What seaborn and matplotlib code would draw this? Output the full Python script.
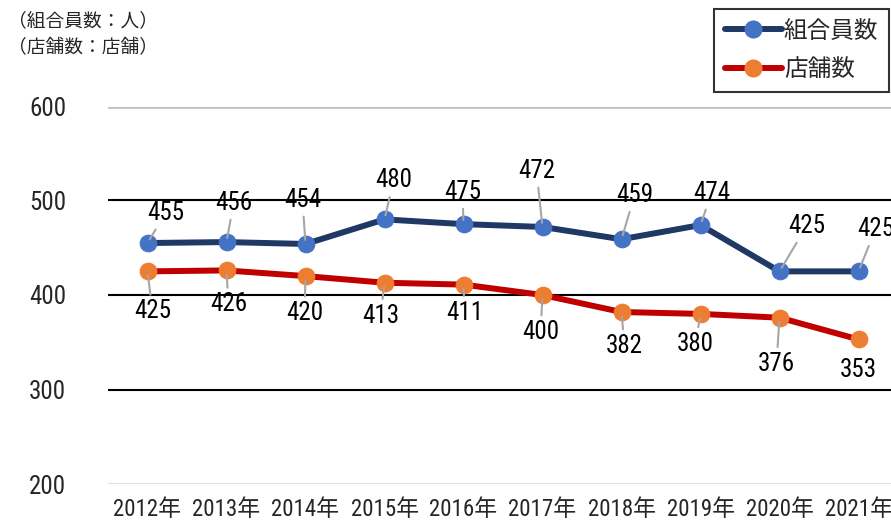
import matplotlib
matplotlib.use("Agg")
import matplotlib.pyplot as plt
import seaborn as sns
import pandas as pd
from matplotlib.lines import Line2D

years = ["2012年", "2013年", "2014年", "2015年", "2016年",
         "2017年", "2018年", "2019年", "2020年", "2021年"]
members = [455, 456, 454, 480, 475, 472, 459, 474, 425, 425]
stores = [425, 426, 420, 413, 411, 400, 382, 380, 376, 353]
series_names = ["組合員数", "店舗数"]
y_ticks = [200, 300, 400, 500, 600]

# label offsets in pixels (dx, dy) relative to each point
member_offsets = [(18, 30), (7, 39), (-3, 44), (9, 39), (-1, 32),
                  (-6, 56), (13, 44), (11, 32), (27, 45), (17, 42)]
store_offsets = [(5, -40), (2, -34), (-1, -37), (-4, -33), (1, -28),
                 (-2, -37), (3, -34), (-5, -30), (-3, -46), (0, -31)]

sns.set_style("white")
plt.rcParams["font.family"] = ["Roboto Condensed", "Noto Sans CJK JP", "DejaVu Sans"]

df = pd.DataFrame({"year": years * 2,
                   "value": members + stores,
                   "series": [series_names[0]] * 10 + [series_names[1]] * 10})

fig = plt.figure(figsize=(8.91, 5.25), dpi=100)
ax = fig.add_axes([108 / 891, 1 - 484 / 525, 790 / 891, 378 / 525])

line_cols = ["#1f3864", "#c00000"]
mark_cols = ["#4472c4", "#ed7d31"]

# gridlines
ax.axhline(600, color="#bfbfbf", lw=4, zorder=0)
ax.axhline(600, color="white", lw=1.4, zorder=0)
for v in [300, 400, 500]:
    ax.axhline(v, color="black", lw=1.5, zorder=0)
ax.axhline(200, color="#d9d9d9", lw=2, zorder=0)

sns.lineplot(data=df, x="year", y="value", hue="series", palette=line_cols,
             marker="o", markersize=12, lw=4.3, sort=False, legend=False, ax=ax)
for ln, mc in zip(ax.get_lines()[-2:], mark_cols):
    ln.set_markerfacecolor(mc)
    ln.set_markeredgecolor(mc)
    ln.set_zorder(3)

def label(vals, offs, skip_leader=()):
    for i, (v, (dx, dy)) in enumerate(zip(vals, offs)):
        ap = None if i in skip_leader else dict(arrowstyle="-", color="#a6a6a6", lw=1.5,
                                                 shrinkA=1, shrinkB=3)
        ax.annotate(str(v), xy=(i, v), xytext=(dx, dy), textcoords="offset pixels",
                    ha="center", va="center", fontsize=18, color="black",
                    arrowprops=ap, zorder=4)

label(members, member_offsets)
label(stores, store_offsets, skip_leader=(9,))

ax.set_xlim(-0.5, 9.5)
ax.set_ylim(200, 600)
ax.set_yticks(y_ticks)
ax.tick_params(axis="y", labelsize=18, pad=30, length=0)
ax.tick_params(axis="x", labelsize=16.5, pad=10, length=0)
ax.set_xlabel("")
ax.set_ylabel("")
for s in ax.spines.values():
    s.set_visible(False)

fig.text(8 / 891, 1 - 21 / 525, "（組合員数：人）", fontsize=13.5, va="center", ha="left")
fig.text(8 / 891, 1 - 48 / 525, "（店舗数：店舗）", fontsize=13.5, va="center", ha="left")

handles = [Line2D([], [], color=lc, lw=4.3, marker="o", markersize=12,
                  markerfacecolor=mc, markeredgecolor=mc)
           for lc, mc in zip(line_cols, mark_cols)]
leg = fig.legend(handles, series_names, loc="upper right",
                 bbox_to_anchor=(889 / 891, 1 - 9 / 525), fontsize=17,
                 frameon=True, fancybox=False, edgecolor="black",
                 handlelength=2.4, borderpad=0.45, labelspacing=0.65, handletextpad=0.1,
                 borderaxespad=0)
leg.get_frame().set_linewidth(1.5)

fig.savefig("out.png", dpi=100)
